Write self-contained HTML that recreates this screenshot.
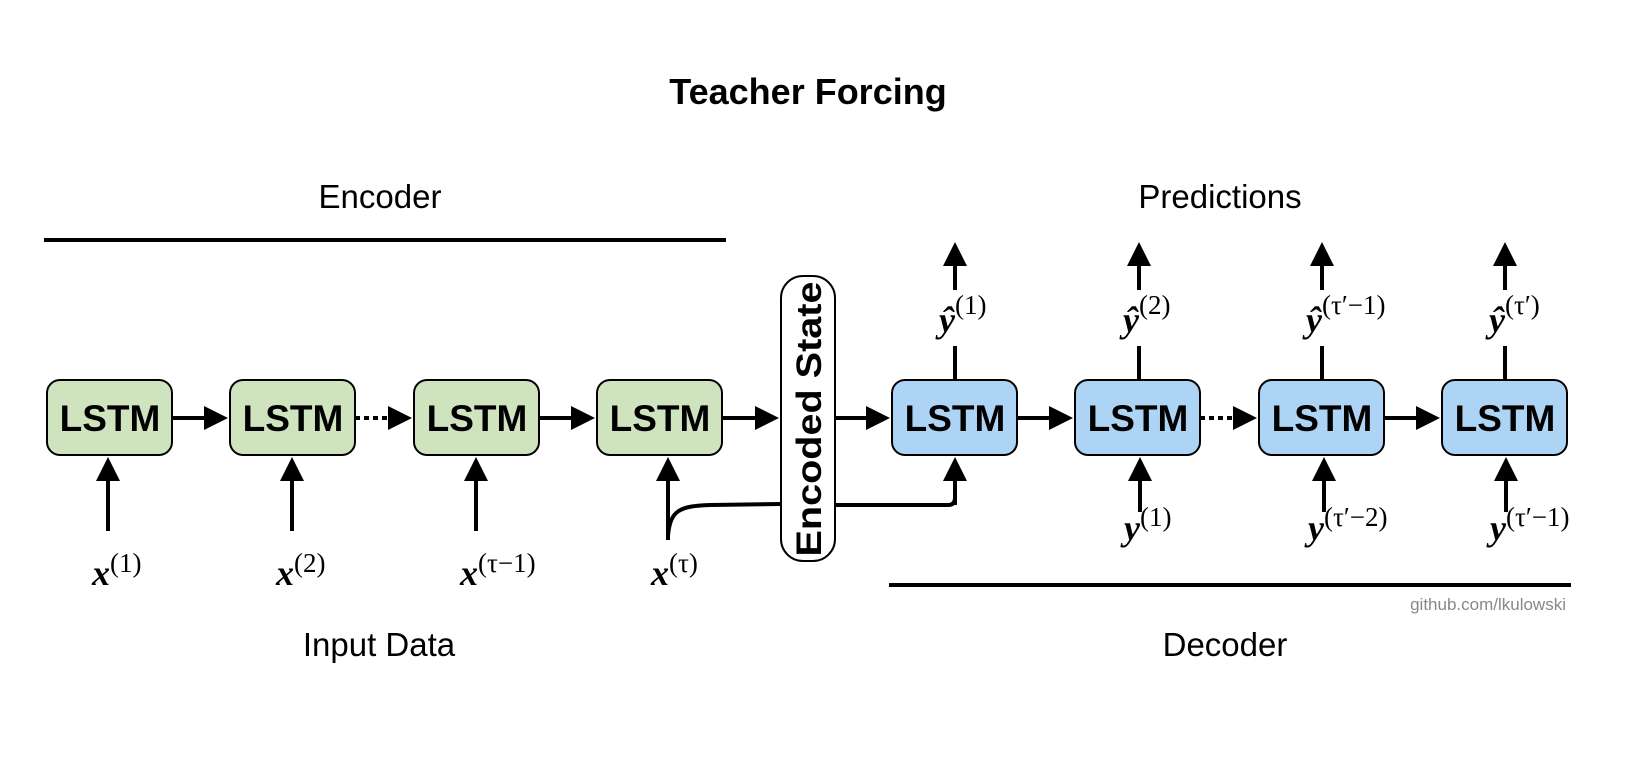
<!DOCTYPE html>
<html><head><meta charset="utf-8"><style>
html,body{margin:0;padding:0;background:#fff;}
svg{display:block;}
.s{font-family:"Liberation Sans",sans-serif;}
.m{font-family:"Liberation Serif",serif;}
</style></head><body>
<svg width="1634" height="759" viewBox="0 0 1634 759" xmlns="http://www.w3.org/2000/svg">
<defs>
<marker id="a" markerWidth="6" markerHeight="6" refX="5" refY="3" orient="auto" markerUnits="strokeWidth">
<path d="M0,0 L6,3 L0,6 z" fill="#000"/></marker>
</defs>
<text class="s" x="808" y="104" font-size="36" font-weight="bold" text-anchor="middle">Teacher Forcing</text>
<text class="s" x="380" y="208" font-size="33" text-anchor="middle">Encoder</text>
<text class="s" x="1220" y="208" font-size="33" text-anchor="middle">Predictions</text>
<text class="s" x="379" y="656" font-size="33" text-anchor="middle">Input Data</text>
<text class="s" x="1225" y="656" font-size="33" text-anchor="middle">Decoder</text>
<text class="s" x="1566" y="610" font-size="17" fill="#888" text-anchor="end">github.com/lkulowski</text>
<line x1="44" y1="240" x2="726" y2="240" stroke="#000" stroke-width="4"/>
<line x1="889" y1="585" x2="1571" y2="585" stroke="#000" stroke-width="4"/>

<g stroke="#000" stroke-width="2">
<rect x="47" y="380" width="125" height="75" rx="13" fill="#d0e3bf"/>
<rect x="230" y="380" width="125" height="75" rx="13" fill="#d0e3bf"/>
<rect x="414" y="380" width="125" height="75" rx="13" fill="#d0e3bf"/>
<rect x="597" y="380" width="125" height="75" rx="13" fill="#d0e3bf"/>
<rect x="892" y="380" width="125" height="75" rx="13" fill="#aed4f5"/>
<rect x="1075" y="380" width="125" height="75" rx="13" fill="#aed4f5"/>
<rect x="1259" y="380" width="125" height="75" rx="13" fill="#aed4f5"/>
<rect x="1442" y="380" width="125" height="75" rx="13" fill="#aed4f5"/>
<rect x="781" y="276" width="54" height="285" rx="22" fill="#fff"/>
</g>
<g class="s" font-size="37" font-weight="bold" text-anchor="middle">
<text x="110" y="431">LSTM</text><text x="293" y="431">LSTM</text>
<text x="477" y="431">LSTM</text><text x="660" y="431">LSTM</text>
<text x="955" y="431">LSTM</text><text x="1138" y="431">LSTM</text>
<text x="1322" y="431">LSTM</text><text x="1505" y="431">LSTM</text>
<text transform="translate(821,419) rotate(-90)" font-size="35" textLength="275" lengthAdjust="spacingAndGlyphs">Encoded State</text>
</g>

<g stroke="#000" stroke-width="4" fill="none" marker-end="url(#a)">
<line x1="172" y1="418" x2="224" y2="418"/>
<line x1="355" y1="418" x2="408" y2="418" stroke-dasharray="5,4"/>
<line x1="539" y1="418" x2="591" y2="418"/>
<line x1="722" y1="418" x2="775" y2="418"/>
<line x1="835" y1="418" x2="886" y2="418"/>
<line x1="1017" y1="418" x2="1069" y2="418"/>
<line x1="1200" y1="418" x2="1253" y2="418" stroke-dasharray="5,4"/>
<line x1="1384" y1="418" x2="1436" y2="418"/>
<line x1="108" y1="531" x2="108" y2="461"/>
<line x1="292" y1="531" x2="292" y2="461"/>
<line x1="476" y1="531" x2="476" y2="461"/>
<path d="M668,540 L668,461" />
<path d="M955,505 L955,461"/>
<line x1="1140" y1="512" x2="1140" y2="461"/>
<line x1="1324" y1="512" x2="1324" y2="461"/>
<line x1="1506" y1="512" x2="1506" y2="461"/>
<line x1="955" y1="290" x2="955" y2="246"/>
<line x1="1139" y1="290" x2="1139" y2="246"/>
<line x1="1322" y1="290" x2="1322" y2="246"/>
<line x1="1505" y1="290" x2="1505" y2="246"/>
</g>
<g stroke="#000" stroke-width="4" fill="none">
<path d="M668,536 C670,510 680,506 710,505 L781,504"/>
<path d="M835,505 L948,505 Q955,505 955,498"/>
<line x1="955" y1="380" x2="955" y2="346"/>
<line x1="1139" y1="380" x2="1139" y2="346"/>
<line x1="1322" y1="380" x2="1322" y2="346"/>
<line x1="1505" y1="380" x2="1505" y2="346"/>
</g>

<g class="m" font-size="27">
<text x="92" y="585"><tspan font-weight="bold" font-style="italic" font-size="36">x</tspan><tspan dy="-13">(1)</tspan></text>
<text x="276" y="585"><tspan font-weight="bold" font-style="italic" font-size="36">x</tspan><tspan dy="-13">(2)</tspan></text>
<text x="460" y="585"><tspan font-weight="bold" font-style="italic" font-size="36">x</tspan><tspan dy="-13">(τ−1)</tspan></text>
<text x="651" y="585"><tspan font-weight="bold" font-style="italic" font-size="36">x</tspan><tspan dy="-13">(τ)</tspan></text>
<text x="1124" y="540"><tspan font-weight="bold" font-style="italic" font-size="36">y</tspan><tspan dy="-14">(1)</tspan></text>
<text x="1308" y="540"><tspan font-weight="bold" font-style="italic" font-size="36">y</tspan><tspan dy="-14">(τ′−2)</tspan></text>
<text x="1490" y="540"><tspan font-weight="bold" font-style="italic" font-size="36">y</tspan><tspan dy="-14">(τ′−1)</tspan></text>
<text x="939" y="332"><tspan font-weight="bold" font-style="italic" font-size="36">ŷ</tspan><tspan dy="-18">(1)</tspan></text>
<text x="1123" y="332"><tspan font-weight="bold" font-style="italic" font-size="36">ŷ</tspan><tspan dy="-18">(2)</tspan></text>
<text x="1306" y="332"><tspan font-weight="bold" font-style="italic" font-size="36">ŷ</tspan><tspan dy="-18">(τ′−1)</tspan></text>
<text x="1489" y="332"><tspan font-weight="bold" font-style="italic" font-size="36">ŷ</tspan><tspan dy="-18">(τ′)</tspan></text>
</g>
</svg>
</body></html>
